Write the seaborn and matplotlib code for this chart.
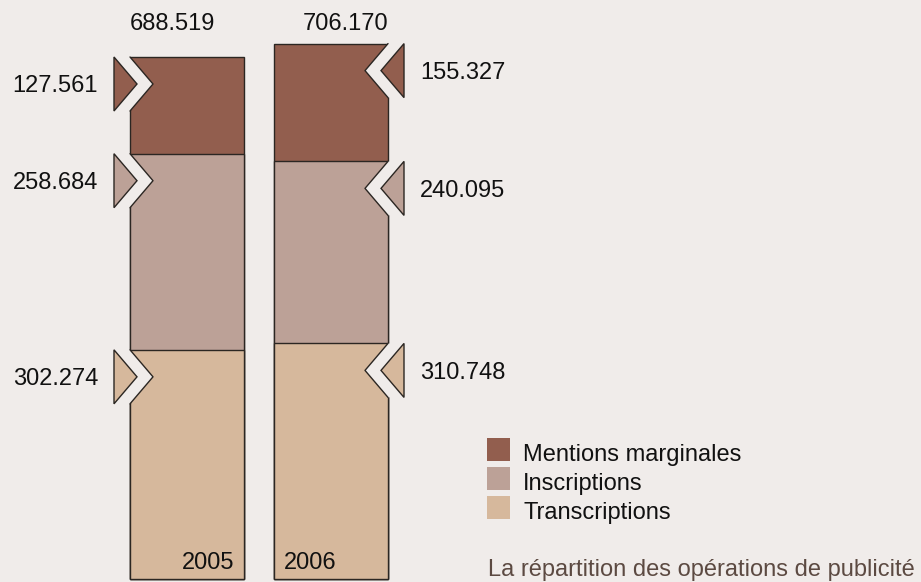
import numpy as np
import pandas as pd
import seaborn as sns
import matplotlib.pyplot as plt
from matplotlib.patches import Polygon, Rectangle

# data
years = ["2005", "2006"]
categories = ["Transcriptions", "Inscriptions", "Mentions marginales"]
transcriptions = [302274, 310748]
inscriptions = [258684, 240095]
mentions = [127561, 155327]

colors = {
    "Mentions marginales": "#925e4e",
    "Inscriptions": "#bca197",
    "Transcriptions": "#d6b89c",
}
BG = "#f0ecea"
EDGE = "#2b2622"

W, H = 921, 582
BAR_PX = 114          # bar width in px
STEP_PX = 144         # distance between bar centres
FIRST_PX = 187        # centre of first bar
BASE_PX = 579         # baseline of bars, from top
Y_SCALE = 522 / 688519  # px per unit


def fmt(v):
    return f"{v:,}".replace(",", ".")


df = pd.DataFrame({
    "year": years,
    "Transcriptions": transcriptions,
    "Inscriptions": inscriptions,
    "Mentions marginales": mentions,
})
df["top_trans"] = df["Transcriptions"]
df["top_ins"] = df["top_trans"] + df["Inscriptions"]
df["top_men"] = df["top_ins"] + df["Mentions marginales"]

sns.set_style("white")
plt.rcParams["font.family"] = ["Liberation Sans", "DejaVu Sans"]

fig = plt.figure(figsize=(W / 100, H / 100), dpi=100, facecolor=BG)
ax = fig.add_axes([0, 0, 1, 1])
ax.set_facecolor(BG)

bw = BAR_PX / STEP_PX
for col, cat in [("top_men", "Mentions marginales"), ("top_ins", "Inscriptions"),
                 ("top_trans", "Transcriptions")]:
    sns.barplot(data=df, x="year", y=col, order=years, color=colors[cat],
                width=bw, errorbar=None, edgecolor=EDGE, linewidth=1.0,
                saturation=1, ax=ax)

xmin = -FIRST_PX / STEP_PX
ax.set_xlim(xmin, xmin + W / STEP_PX)
ymin = -(H - BASE_PX) / Y_SCALE
ax.set_ylim(ymin, ymin + H / Y_SCALE)
ax.axis("off")

px_x = 1 / STEP_PX
px_y = 1 / Y_SCALE
FS = 17

# chevrons + segment labels
segs = [("top_men", "Mentions marginales"), ("top_ins", "Inscriptions"),
        ("top_trans", "Transcriptions")]
for i, row in df.iterrows():
    side = -1 if i == 0 else 1
    edge = i + side * bw / 2
    for col, cat in segs:
        top = row[col]
        y_top = top
        y_mid = top - 27 * px_y
        y_bot = top - 54 * px_y
        apex = edge - side * 23 * px_x
        # notch cut into bar
        notch = Polygon([(edge + side * 3 * px_x, y_top), (edge, y_top), (apex, y_mid),
                         (edge, y_bot), (edge + side * 3 * px_x, y_bot)],
                        closed=True, facecolor=BG, edgecolor="none", zorder=5)
        ax.add_patch(notch)
        ax.plot([edge, apex, edge], [y_top, y_mid, y_bot], color=EDGE, lw=1.0, zorder=6)
        # triangle outside
        tri = Polygon([(edge + side * 16 * px_x, y_top), (edge - side * 7 * px_x, y_mid),
                       (edge + side * 16 * px_x, y_bot)],
                      closed=True, facecolor=colors[cat], edgecolor=EDGE, lw=1.0, zorder=6)
        ax.add_patch(tri)
        ax.text(edge + side * 32 * px_x, y_mid - 8.5 * px_y, fmt(row[cat]),
                ha="left" if side > 0 else "right", va="baseline", fontsize=FS,
                color="#111111", zorder=7)

    # totals and years
    left = i - bw / 2
    right = i + bw / 2
    ax.text(left if i == 0 else right, (BASE_PX - 30.5) * px_y, fmt(row["top_men"]),
            ha="left" if i == 0 else "right", va="baseline", fontsize=FS, color="#111111")
    ax.text(right - 10 * px_x if i == 0 else left + 10 * px_x, 10 * px_y, row["year"],
            ha="right" if i == 0 else "left", va="baseline", fontsize=FS, color="#111111")

# legend
for k, cat in enumerate(["Mentions marginales", "Inscriptions", "Transcriptions"]):
    y_bottom = 461 + 29 * k
    fig.patches.append(Rectangle((487 / W, 1 - y_bottom / H), 23 / W, 23 / H,
                                 transform=fig.transFigure, facecolor=colors[cat],
                                 edgecolor="none"))
    fig.text(523 / W, 1 - y_bottom / H, cat, ha="left", va="baseline",
             fontsize=FS, color="#111111")

fig.text(488 / W, 1 - 576 / H, "La répartition des opérations de publicité",
         ha="left", va="baseline", fontsize=FS, color="#5c4a42")

fig.savefig("out.png", dpi=100, facecolor=BG)
